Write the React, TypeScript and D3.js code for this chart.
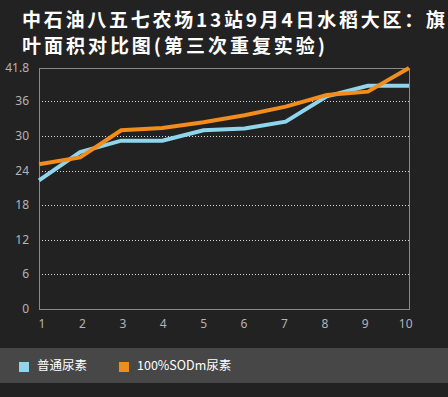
import React, { useRef, useEffect } from "react";
import * as d3 from "d3";

const categories = ["1", "2", "3", "4", "5", "6", "7", "8", "9", "10"];
const normalUrea = [22.3, 27.2, 29.2, 29.2, 31.0, 31.3, 32.5, 36.9, 38.7, 38.7];
const sodUrea = [25.1, 26.3, 31.0, 31.4, 32.4, 33.6, 35.1, 37.1, 37.7, 41.8];
const yTicks = [0, 6, 12, 18, 24, 30, 36, 41.8];
const seriesNames = ["普通尿素", "100%SODm尿素"];
const titleLines = ["中石油八五七农场13站9月4日水稻大区：旗", "叶面积对比图(第三次重复实验)"];

const W = 448;
const H = 397;

const App = () => {
  const ref = useRef(null);

  useEffect(() => {
    d3.select(ref.current).selectAll("*").remove();
    const svg = d3.select(ref.current).attr("width", W).attr("height", H);

    svg.append("rect").attr("width", W).attr("height", H).attr("fill", "#222222");

    // title
    const titleWidths = [423, 303];
    svg
      .append("g")
      .selectAll("text")
      .data(titleLines)
      .enter()
      .append("text")
      .attr("x", 22)
      .attr("y", (d, i) => 27 + i * 26)
      .attr("fill", "#ffffff")
      .attr("font-family", "'Noto Sans CJK SC', sans-serif")
      .attr("font-weight", "bold")
      .attr("font-size", 19)
      .attr("textLength", (d, i) => titleWidths[i])
      .attr("lengthAdjust", "spacing")
      .text((d) => d);

    const left = 39;
    const right = 409;
    const top = 68;
    const bottom = 309;

    const x = d3.scalePoint().domain(categories).range([left, right]);
    const y = d3.scaleLinear().domain([0, 41.8]).range([bottom, top]);

    // grid
    svg
      .append("g")
      .selectAll("line")
      .data(yTicks.filter((t) => t > 0 && t < 41.8))
      .enter()
      .append("line")
      .attr("x1", left)
      .attr("x2", right)
      .attr("y1", (d) => Math.round(y(d)) + 0.5)
      .attr("y2", (d) => Math.round(y(d)) + 0.5)
      .attr("stroke", "#d8d8d8")
      .attr("stroke-dasharray", "1,2");

    svg
      .append("rect")
      .attr("x", left + 0.5)
      .attr("y", top + 0.5)
      .attr("width", right - left)
      .attr("height", bottom - top)
      .attr("fill", "none")
      .attr("stroke", "#8a8a8a");

    // y labels
    svg
      .append("g")
      .selectAll("text")
      .data(yTicks)
      .enter()
      .append("text")
      .attr("x", 29)
      .attr("y", (d) => y(d) + 4)
      .attr("text-anchor", "end")
      .attr("fill", "#b4b4b4")
      .attr("font-family", "'Noto Sans', sans-serif")
      .attr("font-size", 12)
      .text((d) => d);

    // x labels
    svg
      .append("g")
      .selectAll("text")
      .data(categories)
      .enter()
      .append("text")
      .attr("x", (d, i) => (x(d) as number) + 3 - i * 0.7)
      .attr("y", 328)
      .attr("text-anchor", "middle")
      .attr("fill", "#b4b4b4")
      .attr("font-family", "'Noto Sans', sans-serif")
      .attr("font-size", 12)
      .text((d) => d);

    const colors = ["#8fd6ec", "#f28c1c"];
    const line = d3
      .line<number>()
      .x((d, i) => x(categories[i]) as number)
      .y((d) => y(d));

    [normalUrea, sodUrea].forEach((s, i) => {
      svg
        .append("path")
        .datum(s)
        .attr("d", line)
        .attr("fill", "none")
        .attr("stroke", colors[i])
        .attr("stroke-width", 4);
    });

    // legend
    svg
      .append("rect")
      .attr("x", 0)
      .attr("y", 348)
      .attr("width", W)
      .attr("height", 35)
      .attr("fill", "#474747");

    const legendX = [19, 119];
    seriesNames.forEach((name, i) => {
      svg
        .append("rect")
        .attr("x", legendX[i])
        .attr("y", 362)
        .attr("width", 10)
        .attr("height", 10)
        .attr("fill", colors[i]);
      svg
        .append("text")
        .attr("x", legendX[i] + 18)
        .attr("y", 370)
        .attr("fill", "#ffffff")
        .attr("font-family", "'Noto Sans CJK SC', sans-serif")
        .attr("font-size", 12.5)
        .text(name);
    });
  }, []);

  return (
    <svg
      ref={ref}
      style={{ display: "block", position: "fixed", left: 0, top: 0 }}
    ></svg>
  );
};

export default App;
